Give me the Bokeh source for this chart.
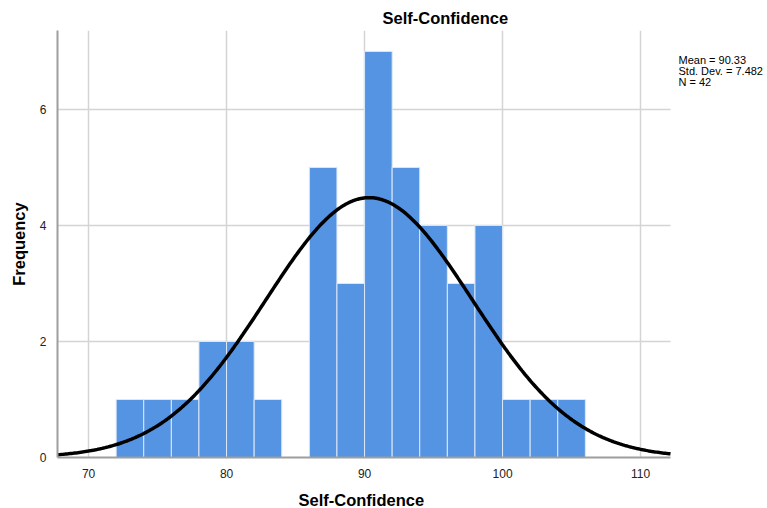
import math
from bokeh.plotting import figure
from bokeh.models import Range1d, FixedTicker, Label, Title
from bokeh.embed import file_html
from bokeh.resources import INLINE

# Histogram of Self-Confidence scores (bin width 2)
bin_edges = [72, 74, 76, 78, 80, 82, 84, 86, 88, 90, 92, 94, 96, 98, 100, 102, 104, 106]
counts = [1, 1, 1, 2, 2, 1, 0, 5, 3, 7, 5, 4, 3, 4, 1, 1, 1]

# Summary statistics
mean = 90.33
std_dev = 7.482
n = 42
bin_width = 2

x_ticks = [70, 80, 90, 100, 110]
y_ticks = [0, 2, 4, 6]

FONT = "Liberation Sans"

# Visible chart extent; the x range runs on past it to leave room for the stats text
X_MIN, X_MAX = 67.75, 112.17
Y_MAX = 7.36
px_per_unit = 13.8
x_range_end = X_MIN + (767 - 57) / px_per_unit

p = figure(frame_width=710, frame_height=427, output_backend="svg", toolbar_location=None,
           x_range=Range1d(X_MIN, x_range_end), y_range=Range1d(0, Y_MAX),
           min_border_left=57, min_border_right=0, min_border_top=30, min_border_bottom=51)
p.outline_line_color = None
p.background_fill_color = "white"
p.border_fill_color = "white"

# Title
p.title.text = "Self-Confidence"
p.title.align = "left"
p.title.offset = 325
p.title.text_font = FONT
p.title.text_font_size = "16.5px"
p.title.text_font_style = "bold"
p.title.text_color = "#000000"
p.title.standoff = 7

# Bars
lefts = bin_edges[:-1]
rights = bin_edges[1:]
p.quad(left=lefts, right=rights, bottom=[0] * len(counts), top=counts,
       fill_color="#5593E3", line_color="#DCE8F8", line_width=1)

# Normal curve scaled to the histogram
xs = [X_MIN + i * (X_MAX - X_MIN) / 400 for i in range(401)]
ys = [n * bin_width / (std_dev * math.sqrt(2 * math.pi)) *
      math.exp(-0.5 * ((x - mean) / std_dev) ** 2) for x in xs]
p.line(xs, ys, line_color="black", line_width=3.5)

# Grid: vertical lines from the ticker, horizontal lines stop at the chart's right edge
p.xgrid.ticker = FixedTicker(ticks=x_ticks)
p.xgrid.grid_line_color = "#D4D4D4"
p.xgrid.grid_line_width = 1.5
p.ygrid.visible = False
for t in y_ticks[1:]:
    p.line([X_MIN, X_MAX], [t, t], line_color="#D4D4D4", line_width=1.5, level="underlay")

# Axes
p.xaxis.ticker = FixedTicker(ticks=x_ticks)
p.yaxis.ticker = FixedTicker(ticks=y_ticks)
p.xaxis.bounds = (X_MIN, X_MAX)
p.yaxis.axis_label = "Frequency"
for ax in (p.xaxis, p.yaxis):
    ax.axis_line_color = "#9E9E9E"
    ax.axis_line_width = 2
    ax.major_tick_line_color = None
    ax.minor_tick_line_color = None
    ax.major_label_text_font = FONT
    ax.major_label_text_font_size = "12px"
    ax.major_label_text_color = "#222222"
    ax.axis_label_text_font = FONT
    ax.axis_label_text_font_size = "16.5px"
    ax.axis_label_text_font_style = "bold"
    ax.axis_label_text_color = "#000000"
p.xaxis.major_label_standoff = 5
p.yaxis.major_label_standoff = 5
p.yaxis.axis_label_standoff = 9
# a blank, tiny axis label adds a little room under the tick labels
p.xaxis.axis_label = " "
p.xaxis.axis_label_text_font_size = "1px"
p.xaxis.axis_label_standoff = 0

# X axis title, centred under the chart area
p.add_layout(Title(text="Self-Confidence", align="left", offset=241, standoff=8,
                   text_font=FONT, text_font_size="16.5px", text_font_style="bold",
                   text_color="#000000"), "below")

# Statistics box
stats = [f"Mean = {mean:.2f}", f"Std. Dev. = {std_dev:.3f}", f"N = {n}"]
for i, s in enumerate(stats):
    p.add_layout(Label(x=112.75, y=6.85 - i * 0.19, text=s, text_font=FONT,
                       text_font_size="11px", text_color="#000000",
                       text_baseline="middle"))

open("out.html", "w").write(file_html(p, INLINE))
